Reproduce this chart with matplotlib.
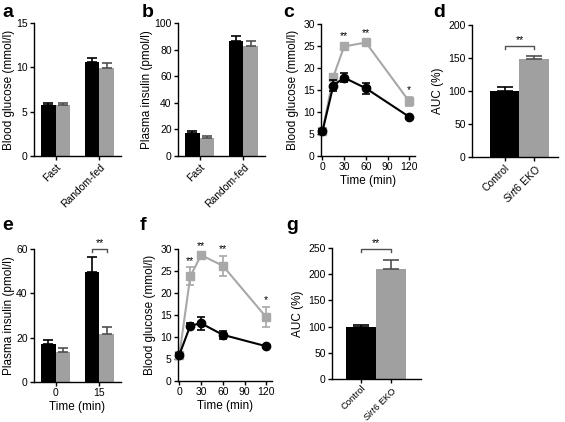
import matplotlib
matplotlib.use("Agg")
import matplotlib.pyplot as plt
import numpy as np

plt.rcParams['font.family'] = ['Liberation Sans', 'DejaVu Sans']
plt.rcParams['mathtext.fontset'] = 'custom'
plt.rcParams['mathtext.it'] = 'Liberation Sans:italic'
plt.rcParams['mathtext.rm'] = 'Liberation Sans'
plt.rcParams['axes.linewidth'] = 1.0
plt.rcParams['xtick.major.width'] = 1.0
plt.rcParams['ytick.major.width'] = 1.0
plt.rcParams['xtick.major.size'] = 3
plt.rcParams['ytick.major.size'] = 3
plt.rcParams['xtick.labelsize'] = 7.5
plt.rcParams['ytick.labelsize'] = 7.5
plt.rcParams['axes.labelsize'] = 8.5

BLACK = '#000000'
GREY = '#a0a0a0'
LGREY = '#a8a8a8'
ERRG = '#505050'

# ---- data ----
groups_ab = ['Fast', 'Random-fed']
a_ctrl = [5.7, 10.6]; a_ctrl_err = [0.3, 0.5]
a_eko = [5.7, 9.9]; a_eko_err = [0.3, 0.6]

b_ctrl = [17.0, 86.5]; b_ctrl_err = [1.5, 3.5]
b_eko = [13.5, 83.0]; b_eko_err = [1.5, 3.5]

time_c = [0, 15, 30, 60, 120]
c_ctrl = [5.6, 16.0, 17.8, 15.4, 8.9]; c_ctrl_err = [0.5, 1.2, 1.0, 1.2, 0.4]
c_eko = [5.6, 18.0, 24.9, 25.8, 12.4]; c_eko_err = [0.5, 0.6, 0.8, 0.5, 1.0]
c_stars = ['', '', '**', '**', '*']

groups_dg = ['Control', '$\\it{Sirt6}$ EKO']
d_vals = [100, 148]; d_err = [6, 5]

groups_e = ['0', '15']
e_ctrl = [17.0, 49.5]; e_ctrl_err = [2.0, 7.0]
e_eko = [13.5, 21.5]; e_eko_err = [2.0, 3.5]

time_f = [0, 15, 30, 60, 120]
f_ctrl = [6.0, 12.6, 13.1, 10.5, 7.9]; f_ctrl_err = [0.3, 0.6, 1.4, 0.9, 0.3]
f_eko = [6.0, 23.8, 28.6, 26.2, 14.5]; f_eko_err = [0.3, 2.0, 0.5, 2.3, 2.3]
f_stars = ['', '**', '**', '**', '*']

g_vals = [100, 209]; g_err = [4, 19]

W, H = 565, 422
fig = plt.figure(figsize=(W / 100, H / 100), dpi=100)


def add_ax(x0, y0, x1, y1):
    ax = fig.add_axes([x0 / W, 1 - y1 / H, (x1 - x0) / W, (y1 - y0) / H])
    ax.spines['top'].set_visible(False)
    ax.spines['right'].set_visible(False)
    ax.tick_params(direction='out', length=3, pad=1.5)
    return ax


def grouped_bars(ax, cats, ctrl, ctrl_err, eko, eko_err, ylim, yticks, ylabel, rotate=True):
    x = np.arange(len(cats))
    w = 1 / 3
    ax.bar(x - w / 2, ctrl, w, color=BLACK, yerr=[np.zeros(len(x)), ctrl_err],
           error_kw=dict(ecolor=BLACK, capsize=3.5, elinewidth=1.2, capthick=1.2), zorder=2)
    ax.bar(x + w / 2, eko, w, color=GREY, yerr=[np.zeros(len(x)), eko_err],
           error_kw=dict(ecolor=ERRG, capsize=3.5, elinewidth=1.2, capthick=1.2), zorder=2)
    ax.set_xlim(-0.49, len(cats) - 1 + 0.49)
    ax.set_ylim(*ylim)
    ax.set_yticks(yticks)
    ax.set_xticks(x)
    if rotate:
        ax.set_xticklabels(cats, rotation=45, ha='right', rotation_mode='anchor')
    else:
        ax.set_xticklabels(cats)
    ax.set_ylabel(ylabel, labelpad=1)


def two_bars(ax, cats, vals, errs, xlim, ylim, yticks, bracket_y, bracket_text_y):
    x = np.arange(len(cats))
    ax.bar(x[0], vals[0], 1.0, color=BLACK, yerr=[[0], [errs[0]]],
           error_kw=dict(ecolor=BLACK, capsize=6, elinewidth=1.2, capthick=1.2), zorder=2)
    ax.bar(x[1], vals[1], 1.0, color=GREY, yerr=[[0], [errs[1]]],
           error_kw=dict(ecolor=ERRG, capsize=6, elinewidth=1.2, capthick=1.2), zorder=2)
    ax.set_xlim(*xlim)
    ax.set_ylim(*ylim)
    ax.set_yticks(yticks)
    ax.set_xticks(x)
    ax.set_xticklabels(cats, rotation=45, ha='right', rotation_mode='anchor')
    ax.set_ylabel('AUC (%)', labelpad=3)
    drop = (ylim[1] - ylim[0]) * 0.025
    ax.plot([x[0], x[0], x[1], x[1]], [bracket_y - drop, bracket_y, bracket_y, bracket_y - drop],
            color=ERRG, lw=1.0, clip_on=False)
    ax.text((x[0] + x[1]) / 2, bracket_text_y, '**', ha='center', va='bottom', fontsize=7.5)


def time_course(ax, t, ctrl, ctrl_err, eko, eko_err, stars, star_off):
    ax.errorbar(t, eko, yerr=eko_err, color=LGREY, marker='s', ms=6, lw=1.5,
                capsize=3, elinewidth=1.2, capthick=1.2, zorder=2, clip_on=False)
    ax.errorbar(t, ctrl, yerr=ctrl_err, color=BLACK, marker='o', ms=6, lw=1.5,
                capsize=3, elinewidth=1.2, capthick=1.2, zorder=3, clip_on=False)
    for ti, v, e, s in zip(t, eko, eko_err, stars):
        if s:
            ax.text(ti, v + e + star_off, s, ha='center', va='bottom', fontsize=7.5)
    ax.set_xlim(-2, 128)
    ax.set_xticks([0, 30, 60, 90, 120])
    ax.set_ylim(0, 30)
    ax.set_yticks([0, 5, 10, 15, 20, 25, 30])
    ax.set_xlabel('Time (min)', labelpad=2)
    ax.set_ylabel('Blood glucose (mmol/l)', labelpad=3)


# a
ax_a = add_ax(34, 23, 121, 156)
grouped_bars(ax_a, groups_ab, a_ctrl, a_ctrl_err, a_eko, a_eko_err, (0, 15), [0, 5, 10, 15],
             'Blood glucose (mmol/l)')
# b
ax_b = add_ax(178, 23, 265, 156)
grouped_bars(ax_b, groups_ab, b_ctrl, b_ctrl_err, b_eko, b_eko_err, (0, 100), [0, 20, 40, 60, 80, 100],
             'Plasma insulin (pmol/l)')
# c
ax_c = add_ax(321, 24, 415, 156)
time_course(ax_c, time_c, c_ctrl, c_ctrl_err, c_eko, c_eko_err, c_stars, 0.4)
# d
ax_d = add_ax(472, 25, 558, 157)
two_bars(ax_d, groups_dg, d_vals, d_err, (-1.1, 1.8), (0, 200), [0, 50, 100, 150, 200], 168, 170)
# e
ax_e = add_ax(34, 249, 121, 382)
grouped_bars(ax_e, groups_e, e_ctrl, e_ctrl_err, e_eko, e_eko_err, (0, 60), [0, 20, 40, 60],
             'Plasma insulin (pmol/l)', rotate=False)
ax_e.set_xlabel('Time (min)', labelpad=2)
bx0, bx1 = 1 - 1 / 6, 1 + 1 / 6
ax_e.plot([bx0, bx0, bx1, bx1], [58.5, 60, 60, 58.5], color=ERRG, lw=1.0, clip_on=False)
ax_e.text(1, 60.3, '**', ha='center', va='bottom', fontsize=7.5)
# f
ax_f = add_ax(178, 249, 272, 381)
time_course(ax_f, time_f, f_ctrl, f_ctrl_err, f_eko, f_eko_err, f_stars, 0.4)
# g
ax_g = add_ax(332, 248, 421, 379)
two_bars(ax_g, groups_dg, g_vals, g_err, (-0.97, 2.0), (0, 250), [0, 50, 100, 150, 200, 250], 248, 250)
ax_g.tick_params(axis='x', pad=0.5)
for lbl in ax_g.get_xticklabels():
    lbl.set_fontsize(6.8)

# panel letters
for letter, x, y in [('a', 2, 17), ('b', 142, 17), ('c', 283, 17), ('d', 433, 17),
                     ('e', 2, 230), ('f', 140, 230), ('g', 286, 230)]:
    fig.text(x / W, 1 - y / H, letter, fontsize=14, fontweight='bold', ha='left', va='baseline')

fig.savefig('out.png', dpi=100)
